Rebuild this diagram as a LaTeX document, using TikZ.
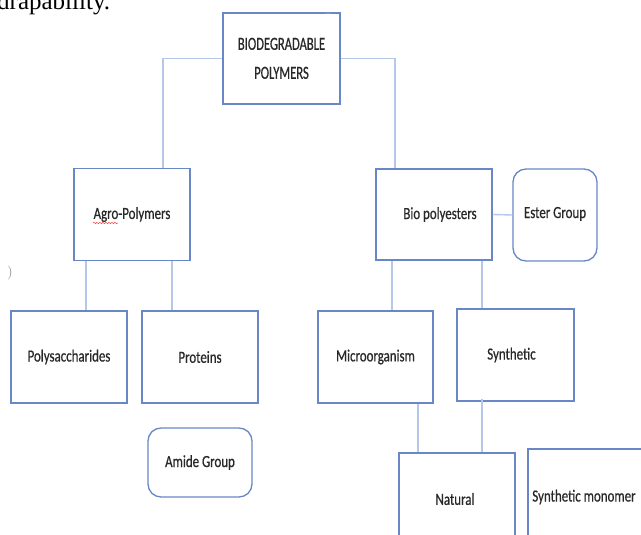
\documentclass[tikz,border=0pt]{standalone}
\usepackage{fontspec}
\newfontfamily\nar[FakeStretch=0.76,FakeBold=0.6]{Carlito}
\newfontfamily\narcap[FakeStretch=0.68,FakeBold=0.6]{Carlito}
\newfontfamily\docserif{Liberation Serif}
\usetikzlibrary{calc,decorations.pathmorphing}
\definecolor{boxblue}{RGB}{105,135,198}
\definecolor{linkblue}{RGB}{182,200,234}
\definecolor{txt}{RGB}{40,40,40}
\begin{document}
\begin{tikzpicture}[x=1pt,y=-1pt,
  box/.style={draw=boxblue,line width=1.3pt,inner sep=0pt,minimum width=#1,
    font=\nar\fontsize{17}{26}\selectfont,text=txt,align=center},
  box/.default=116pt,
  rbox/.style={box=#1,rounded corners=13pt},
  link/.style={draw=linkblue,line width=1.4pt}]
\useasboundingbox (0,0) rectangle (641,535);
% fragment of surrounding document text
\node[anchor=base west,inner sep=0pt,font=\docserif\fontsize{25}{25}\selectfont] (frag) at (-3,10) {drapability.};
\node[inner sep=0pt,text=black!50,font=\fontsize{14}{14}\selectfont] (paren) at (10,273) {)};
% nodes
\node[box=117pt,minimum height=91pt,font=\narcap\fontsize{18.5}{29}\selectfont] (bp) at (281.5,58.5) {\raisebox{-3pt}{\begin{tabular}{@{}c@{}}BIODEGRADABLE\\POLYMERS\end{tabular}}};
\node[box,minimum height=92pt] (agro) at (132,214.5) {Agro-Polymers};
\node[box,minimum height=91pt] (bio) at (434,214.5) {\hspace*{12pt}Bio polyesters};
\node[rbox=84pt,minimum height=92pt] (ester) at (555,215) {\raisebox{5pt}{Ester Group}};
\node[box,minimum height=92pt] (poly) at (69,357) {Polysaccharides};
\node[box,minimum height=92pt] (prot) at (200,357) {Proteins};
\node[rbox=104pt,minimum height=69pt] (amide) at (200,462.5) {Amide Group};
\node[box=115pt,minimum height=92pt] (micro) at (375.5,357) {Microorganism};
\node[box=117pt,minimum height=92pt] (synth) at (515.5,355) {\raisebox{2pt}{Synthetic\hspace*{8pt}}};
\node[box,minimum height=92pt] (natural) at (457,499) {Natural\hspace*{4pt}};
\node[box=122pt,minimum height=96pt] (smono) at (589,497) {Synthetic monomer\hspace*{10pt}};
% spell-check underline
\draw[red!80,line width=0.5pt,decorate,decoration={snake,amplitude=0.6pt,segment length=3pt}]
  ([xshift=-39pt,yshift=-8.5pt]agro.center) -- ([xshift=-14pt,yshift=-8.5pt]agro.center);
% small mark above the top box
\draw[black!40,line width=1pt] ([xshift=-16pt,yshift=-1.5pt]bp.north east) -- ([xshift=-10pt,yshift=-1.5pt]bp.north east);
% connectors
\draw[link] (bp.west) -| ([xshift=31pt]agro.north);
\draw[link] (bp.east) -| ([xshift=-39pt]bio.north);
\draw[link] ([xshift=-46pt]agro.south) -- ([xshift=-46pt]agro.south |- poly.north);
\draw[link] ([xshift=40pt]agro.south) -- ([xshift=40pt]agro.south |- prot.north);
\draw[link] ([xshift=-42pt]bio.south) -- ([xshift=-42pt]bio.south |- micro.north);
\draw[link] ([xshift=48pt]bio.south) -- ([xshift=48pt]bio.south |- synth.north);
\draw[link] (bio.east) -- (ester.west);
\draw[link] ([xshift=42.5pt]micro.south) -- ([xshift=42.5pt]micro.south |- natural.north);
\draw[link] ([xshift=-33.5pt,yshift=3pt]synth.south) -- ([xshift=-33.5pt]synth.south |- natural.north);
\end{tikzpicture}
\end{document}
